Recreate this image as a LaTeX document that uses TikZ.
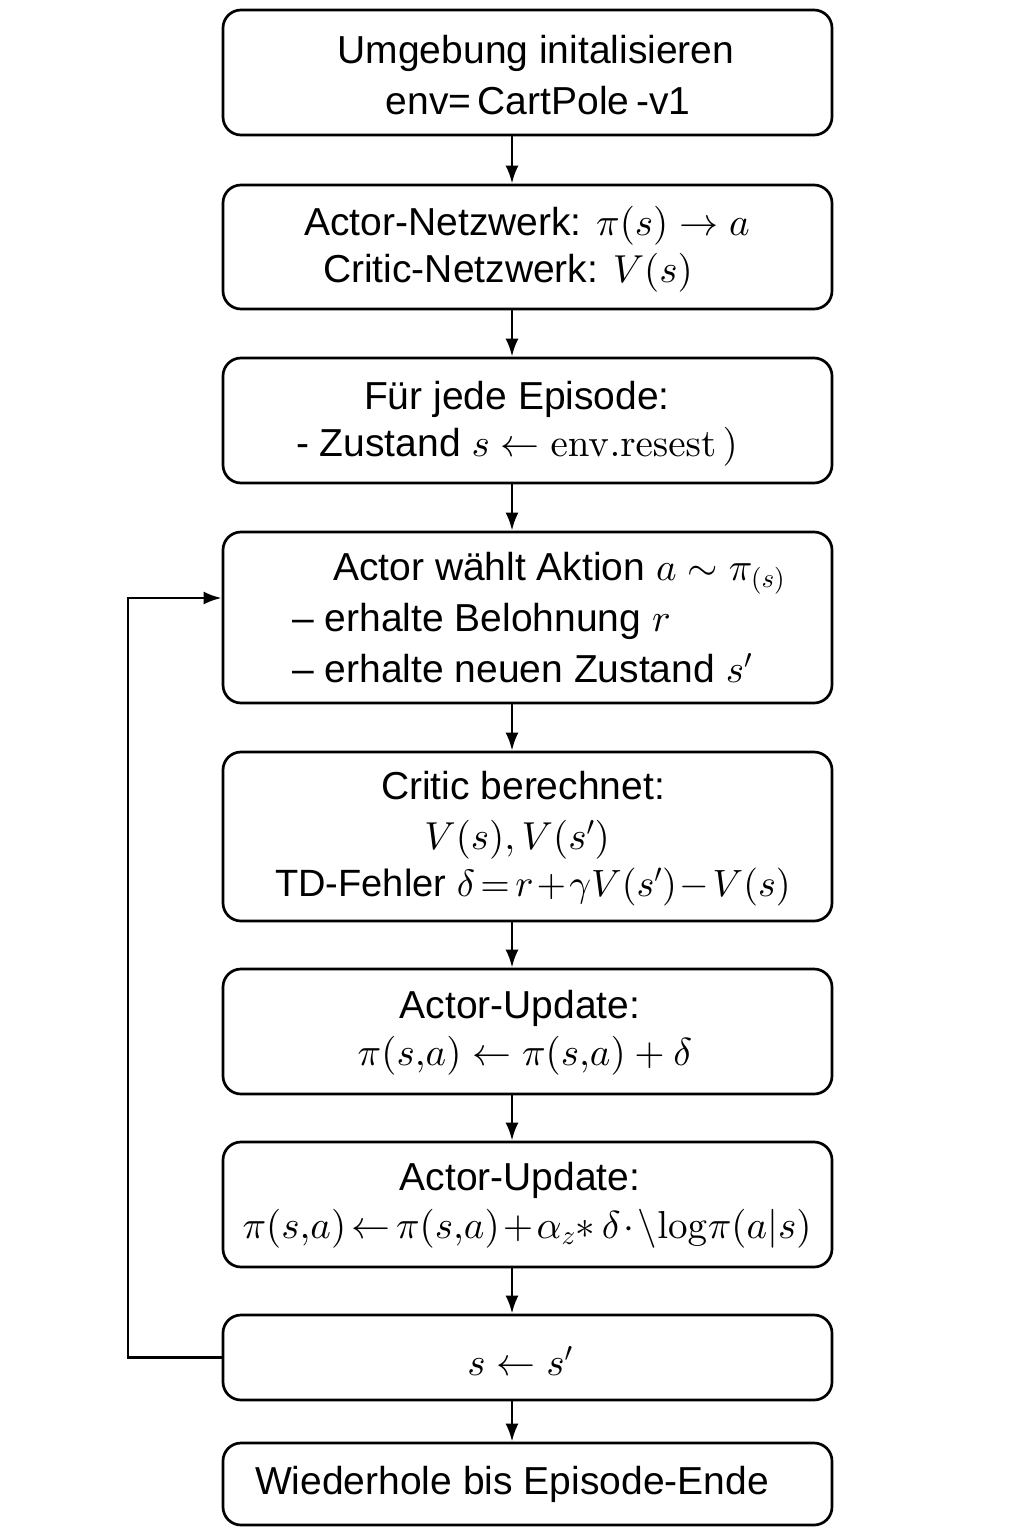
\documentclass[tikz,border=0pt]{standalone}
\usepackage[no-math]{fontspec}
\setmainfont{Liberation Sans}
\DeclareFontShape{OML}{cmm}{m}{it}{<->cmmi10}{}
\DeclareFontShape{OMS}{cmsy}{m}{n}{<->cmsy10}{}
\DeclareFontShape{OMX}{cmex}{m}{n}{<->cmex10}{}
\DeclareFontShape{OT1}{cmr}{m}{n}{<->cmr10}{}
\DeclareMathSizes{39}{39}{27}{20}
\DeclareMathSizes{38}{38}{26}{19}
\usetikzlibrary{arrows.meta}
\begin{document}
\begin{tikzpicture}[x=1pt,y=-1pt,
  box/.style={draw=black,line width=2.7pt,rounded corners=18pt,minimum width=609pt,inner sep=0pt},
  txt/.style={inner sep=0pt,font=\fontsize{39}{48}\selectfont,anchor=center},
  tight/.style={execute at begin node={\thickmuskip=2.5mu\medmuskip=1.5mu}},
  arr/.style={draw=black,line width=2.7pt,-{Latex[length=18pt,width=13pt]}}]
\useasboundingbox (0,0) rectangle (1024,1536);
% boxes
\node[box,minimum height=125pt] (b1) at (527.5,72.5) {};
\node[box,minimum height=124pt] (b2) at (527.5,247) {};
\node[box,minimum height=125pt] (b3) at (527.5,420.5) {};
\node[box,minimum height=171pt] (b4) at (527.5,617.5) {};
\node[box,minimum height=169pt] (b5) at (527.5,836.5) {};
\node[box,minimum height=125pt] (b6) at (527.5,1031.5) {};
\node[box,minimum height=125pt] (b7) at (527.5,1204.5) {};
\node[box,minimum height=85pt] (b8) at (527.5,1357.5) {};
\node[box,minimum height=82pt] (b9) at (527.5,1484) {};
% texts
\node[txt] (t1a) at (536,53) {Umgebung initalisieren};
\node[txt] (t1b) at (538,101) {env=\,CartPole\,-v1};
\node[txt] (t2a) at (527,226) {Actor-Netzwerk: $\pi(s)\rightarrow a$};
\node[txt] (t2b) at (508,273) {Critic-Netzwerk: $V(s)$};
\node[txt] (t3a) at (517,399) {Für jede Episode:};
\node[txt] (t3b) at (517,447) {- Zustand $s\leftarrow \mathrm{env.resest}\,)$};
\node[txt,anchor=west] (t4a) at (333,573) {Actor wählt Aktion $a\sim\pi_{(s)}$};
\node[txt,anchor=west] (t4b) at (292,621) {– erhalte Belohnung $r$};
\node[txt,anchor=west] (t4c) at (292,668) {– erhalte neuen Zustand $s'$};
\node[txt] (t5a) at (523,786) {Critic berechnet:};
\node[txt] (t5b) at (517,840) {$V(s),V(s')$};
\node[txt,tight,font=\fontsize{38}{48}\selectfont] (t5c) at (533,887) {TD-Fehler $\delta=r+\gamma V(s')-V(s)$};
\node[txt] (t6a) at (520,1008) {Actor-Update:};
\node[txt] (t6b) at (525,1056) {$\pi(s{,}a)\leftarrow\pi(s{,}a)+\delta$};
\node[txt] (t7a) at (520,1180) {Actor-Update:};
\node[txt,tight] (t7b) at (527,1229) {$\pi(s{,}a)\leftarrow\pi(s{,}a)+\alpha_{z}{*}\,\delta\cdot\backslash\mathrm{log}\pi(a|s)$};
\node[txt] (t8) at (520,1361) {$s\leftarrow s'$};
\node[txt] (t9) at (512,1484) {Wiederhole bis Episode-Ende};
% connectors
\coordinate (ax) at (512,0);
\foreach \a/\b in {b1/b2,b2/b3,b3/b4,b4/b5,b5/b6,b6/b7,b7/b8,b8/b9}
  \draw[arr] (\a.south -| ax) -- (\b.north -| ax);
\coordinate (lp) at (128,598);
\draw[arr] (b8.west) -| (lp) -- (b4.west |- lp);
\end{tikzpicture}
\end{document}
